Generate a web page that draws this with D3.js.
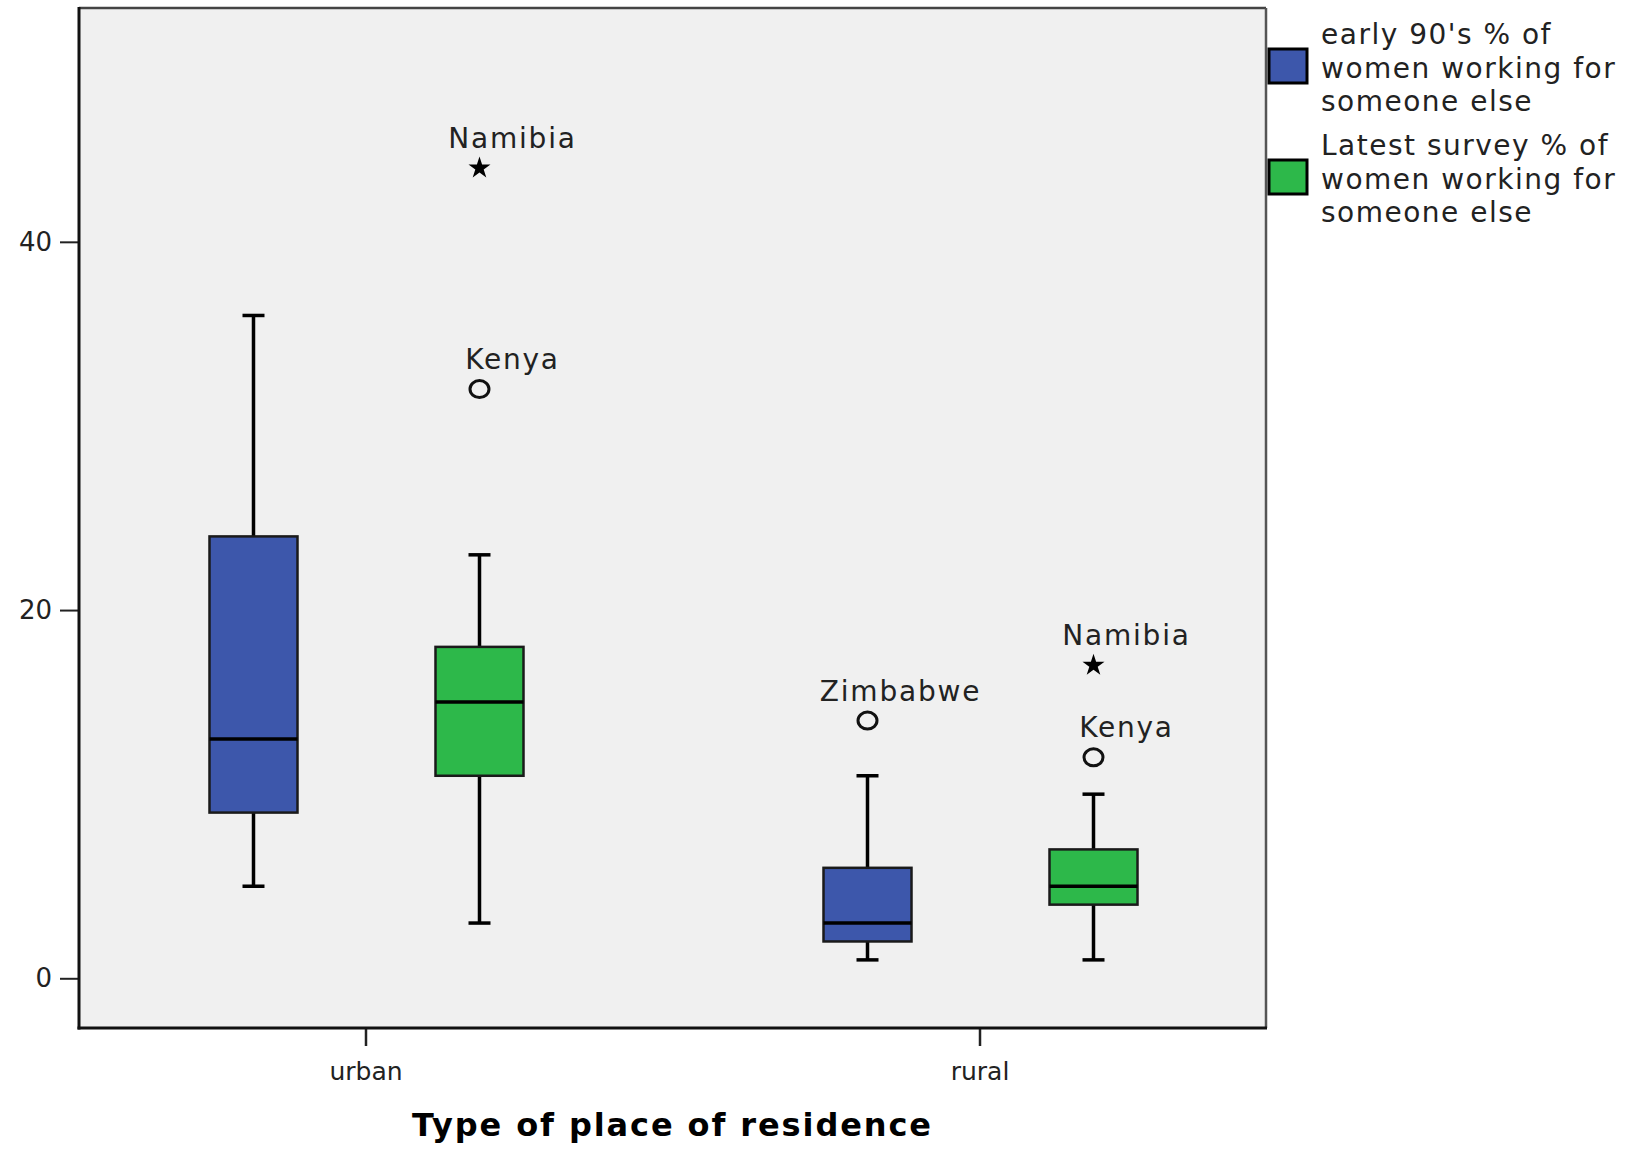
<!DOCTYPE html>
<html>
<head>
<meta charset="utf-8">
<script src="https://cdn.jsdelivr.net/npm/d3@7"></script>
<style>
  html, body { margin: 0; padding: 0; background: #fff; }
  svg { display: block; }
</style>
</head>
<body>
<svg id="chart" width="1638" height="1152"></svg>
<script>
// ---- Data ----
const categories = ["urban", "rural"];
const seriesNames = ["early90s", "latest"];
const seriesLabels = [
  ["early 90's % of", "women working for", "someone else"],
  ["Latest survey % of", "women working for", "someone else"]
];
const seriesColors = ["#3d57ab", "#2db84a"];
// [whiskerLow, Q1, median, Q3, whiskerHigh] per category
const early90sStats = [[5, 9, 13, 24, 36], [1, 2, 3, 6, 11]];
const latestStats   = [[3, 11, 15, 18, 23], [1, 4, 5, 7, 10]];
const outlierCategory = ["urban", "urban", "rural", "rural", "rural"];
const outlierSeries   = ["latest", "latest", "early90s", "latest", "latest"];
const outlierValues   = [44, 32, 14, 17, 12];
const outlierLabels   = ["Namibia", "Kenya", "Zimbabwe", "Namibia", "Kenya"];
const outlierKinds    = ["extreme", "outlier", "outlier", "extreme", "outlier"];
const yTicks = [0, 20, 40];
const xTitle = "Type of place of residence";

(function () {
// ---- Layout ----
const svg = d3.select("#chart");
const pL = 79, pR = 1266, pT = 8, pB = 1028;
const font = "'DejaVu Sans', sans-serif";

const y = d3.scaleLinear().domain([-2.7, 52.7]).range([pB, pT]);
const x = d3.scalePoint().domain(categories).range([pL, pR]).padding(0.4666);
const inner = d3.scalePoint().domain(seriesNames).range([-112, 114]);
const boxW = 88, capW = 22;

// background
svg.append("rect").attr("x", pL).attr("y", pT)
  .attr("width", pR - pL).attr("height", pB - pT)
  .attr("fill", "#f0f0f0");

// frame top/right
svg.append("line").attr("x1", pL).attr("x2", pR).attr("y1", pT).attr("y2", pT)
  .attr("stroke", "#444").attr("stroke-width", 2.5);
svg.append("line").attr("x1", pR).attr("x2", pR).attr("y1", pT).attr("y2", pB)
  .attr("stroke", "#555").attr("stroke-width", 2.5);

// axes
const yAxis = d3.axisLeft(y).tickValues(yTicks).tickSize(19).tickPadding(8).tickFormat(d3.format("d"));
const gy = svg.append("g").attr("transform", `translate(${pL},0)`).call(yAxis);
gy.select(".domain").remove();
gy.selectAll(".tick line").attr("stroke", "#222").attr("stroke-width", 2);
gy.selectAll(".tick text").attr("font-family", font).attr("font-size", 26).attr("fill", "#222");

const xAxis = d3.axisBottom(x).tickSize(18).tickPadding(16);
const gx = svg.append("g").attr("transform", `translate(0,${pB})`).call(xAxis);
gx.select(".domain").remove();
gx.selectAll(".tick line").attr("stroke", "#222").attr("stroke-width", 2.5);
gx.selectAll(".tick text").attr("font-family", font).attr("font-size", 25).attr("fill", "#222");

// left/bottom frame lines
svg.append("line").attr("x1", pL).attr("x2", pL).attr("y1", pT - 1).attr("y2", pB + 1.5)
  .attr("stroke", "#111").attr("stroke-width", 3);
svg.append("line").attr("x1", pL - 1.5).attr("x2", pR + 1).attr("y1", pB).attr("y2", pB)
  .attr("stroke", "#111").attr("stroke-width", 3);

// x title
svg.append("text").attr("x", (pL + pR) / 2).attr("y", 1136)
  .attr("text-anchor", "middle").attr("font-family", font).attr("font-weight", "bold")
  .attr("font-size", 32).attr("letter-spacing", 1.9).attr("fill", "#000").text(xTitle);

// boxes
const statsBySeries = { early90s: early90sStats, latest: latestStats };
seriesNames.forEach((s, si) => {
  categories.forEach((c, ci) => {
    const [lo, q1, med, q3, hi] = statsBySeries[s][ci];
    const cx = x(c) + inner(s);
    const g = svg.append("g");
    g.append("line").attr("x1", cx).attr("x2", cx).attr("y1", y(hi)).attr("y2", y(q3))
      .attr("stroke", "#000").attr("stroke-width", 3.5);
    g.append("line").attr("x1", cx).attr("x2", cx).attr("y1", y(q1)).attr("y2", y(lo))
      .attr("stroke", "#000").attr("stroke-width", 3.5);
    g.append("line").attr("x1", cx - capW / 2).attr("x2", cx + capW / 2).attr("y1", y(hi)).attr("y2", y(hi))
      .attr("stroke", "#000").attr("stroke-width", 3.5);
    g.append("line").attr("x1", cx - capW / 2).attr("x2", cx + capW / 2).attr("y1", y(lo)).attr("y2", y(lo))
      .attr("stroke", "#000").attr("stroke-width", 3.5);
    g.append("rect").attr("x", cx - boxW / 2).attr("y", y(q3))
      .attr("width", boxW).attr("height", y(q1) - y(q3))
      .attr("fill", seriesColors[si]).attr("stroke", "#1a1a1a").attr("stroke-width", 2.5);
    g.append("line").attr("x1", cx - boxW / 2).attr("x2", cx + boxW / 2).attr("y1", y(med)).attr("y2", y(med))
      .attr("stroke", "#000").attr("stroke-width", 3.5);
  });
});

// outliers
outlierValues.forEach((v, i) => {
  const cx = x(outlierCategory[i]) + inner(outlierSeries[i]);
  const cy = y(v);
  if (outlierKinds[i] === "outlier") {
    svg.append("ellipse").attr("cx", cx).attr("cy", cy).attr("rx", 9.5).attr("ry", 8.5)
      .attr("fill", "none").attr("stroke", "#111").attr("stroke-width", 3);
  } else {
    svg.append("path").attr("transform", `translate(${cx},${cy})`)
      .attr("d", d3.symbol().type(d3.symbolStar).size(150)()).attr("fill", "#000");
  }
  svg.append("text").attr("x", cx + 33).attr("y", cy - 20)
    .attr("text-anchor", "middle").attr("font-family", font).attr("font-size", 28)
    .attr("letter-spacing", 1.8).attr("fill", "#222").text(outlierLabels[i]);
});

// legend
const legTop = [49, 160];
seriesNames.forEach((s, si) => {
  svg.append("rect").attr("x", 1269).attr("y", legTop[si]).attr("width", 38).attr("height", 34)
    .attr("fill", seriesColors[si]).attr("stroke", "#000").attr("stroke-width", 3);
  seriesLabels[si].forEach((line, li) => {
    svg.append("text").attr("x", 1321).attr("y", legTop[si] - 5 + li * 33.5)
      .attr("font-family", font).attr("font-size", 28).attr("letter-spacing", 1.5)
      .attr("fill", "#222").text(line);
  });
});
})();
</script>
</body>
</html>
